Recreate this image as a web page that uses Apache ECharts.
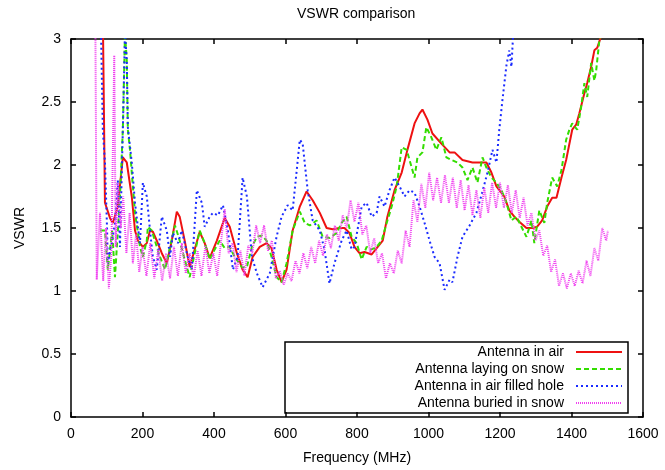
<!DOCTYPE html>
<html>
<head>
<meta charset="utf-8">
<script src="https://cdn.jsdelivr.net/npm/echarts@6/dist/echarts.min.js"></script>
<style>
  html, body { margin: 0; padding: 0; background: #fff; }
  #main { width: 665px; height: 470px; }
</style>
</head>
<body>
<div id="main"></div>
<script>
// [frequency MHz, VSWR]
const airData = [[89,3.2],[95,1.70],[109,1.58],[117,1.54],[131,1.67],[145,2.06],[156,2.02],[170,1.75],[179,1.48],[187,1.40],[201,1.35],[212,1.38],[221,1.48],[229,1.47],[240,1.40],[254,1.30],[268,1.22],[282,1.40],[296,1.63],[304,1.59],[318,1.40],[332,1.19],[346,1.33],[360,1.47],[374,1.38],[388,1.26],[408,1.40],[430,1.58],[444,1.51],[464,1.30],[480,1.17],[494,1.11],[508,1.27],[528,1.35],[547,1.38],[561,1.34],[575,1.17],[589,1.07],[603,1.17],[620,1.48],[640,1.67],[659,1.79],[676,1.72],[696,1.62],[715,1.50],[732,1.49],[751,1.50],[765,1.50],[779,1.46],[793,1.35],[807,1.30],[821,1.31],[841,1.29],[858,1.35],[872,1.40],[885,1.59],[905,1.80],[925,1.94],[941,2.12],[961,2.33],[975,2.41],[983,2.44],[997,2.36],[1011,2.25],[1036,2.17],[1059,2.10],[1073,2.10],[1095,2.04],[1123,2.02],[1162,2.02],[1176,1.94],[1190,1.83],[1212,1.75],[1226,1.64],[1240,1.59],[1254,1.55],[1274,1.50],[1291,1.50],[1304,1.51],[1318,1.56],[1332,1.67],[1346,1.74],[1358,1.74],[1372,1.90],[1385,2.04],[1402,2.28],[1413,2.32],[1422,2.41],[1436,2.57],[1444,2.65],[1455,2.78],[1464,2.91],[1472,2.93],[1486,3.05]];

const snowData = [[81,1.48],[95,1.48],[103,1.17],[115,1.48],[123,1.11],[137,1.75],[145,2.28],[151,3.05],[156,2.83],[159,2.28],[165,2.12],[170,1.94],[179,1.62],[193,1.35],[201,1.27],[212,1.40],[215,1.51],[226,1.48],[240,1.35],[249,1.27],[263,1.17],[277,1.35],[291,1.52],[304,1.40],[318,1.25],[332,1.11],[346,1.30],[360,1.48],[374,1.38],[388,1.25],[402,1.33],[416,1.40],[430,1.34],[444,1.35],[458,1.27],[478,1.19],[492,1.19],[506,1.35],[520,1.43],[534,1.44],[547,1.40],[561,1.27],[575,1.11],[589,1.07],[603,1.22],[620,1.48],[640,1.63],[654,1.54],[668,1.52],[687,1.56],[704,1.43],[723,1.42],[743,1.46],[757,1.54],[771,1.59],[785,1.43],[799,1.38],[813,1.25],[827,1.35],[841,1.33],[855,1.35],[869,1.40],[883,1.54],[897,1.67],[911,1.83],[925,2.14],[939,2.12],[953,1.98],[961,1.90],[969,2.06],[983,2.10],[994,2.30],[1008,2.22],[1022,2.12],[1036,2.22],[1050,2.06],[1064,2.04],[1081,2.02],[1095,1.98],[1109,1.88],[1123,1.98],[1137,1.86],[1151,2.06],[1162,1.98],[1176,1.90],[1190,1.86],[1204,1.80],[1218,1.70],[1232,1.56],[1246,1.59],[1260,1.51],[1274,1.43],[1288,1.56],[1296,1.38],[1310,1.64],[1324,1.54],[1332,1.70],[1346,1.90],[1360,1.83],[1372,1.96],[1385,2.20],[1394,2.28],[1402,2.33],[1416,2.28],[1427,2.46],[1436,2.65],[1444,2.54],[1455,2.81],[1464,2.67],[1469,2.75],[1478,2.99],[1486,3.07]];

const holeData = [[84,3.05],[89,2.28],[95,2.02],[101,1.48],[103,1.22],[115,1.40],[123,1.54],[131,1.88],[137,1.35],[145,2.28],[151,3.05],[156,2.83],[159,2.30],[170,2.02],[179,1.70],[187,1.51],[193,1.38],[201,1.86],[212,1.75],[221,1.48],[229,1.27],[240,1.17],[254,1.59],[268,1.48],[277,1.27],[285,1.46],[299,1.38],[310,1.48],[324,1.30],[338,1.17],[352,1.80],[366,1.70],[374,1.51],[388,1.59],[397,1.62],[411,1.60],[425,1.68],[439,1.48],[453,1.17],[466,1.27],[480,1.90],[492,1.75],[506,1.27],[520,1.14],[536,1.03],[556,1.14],[575,1.43],[589,1.59],[606,1.68],[620,1.64],[640,2.20],[648,2.17],[662,1.80],[676,1.56],[696,1.48],[709,1.33],[723,1.06],[737,1.22],[757,1.40],[771,1.48],[785,1.33],[793,1.35],[813,1.67],[827,1.70],[841,1.59],[855,1.62],[863,1.75],[877,1.67],[891,1.80],[905,1.90],[919,1.83],[933,1.75],[947,1.80],[961,1.78],[975,1.67],[989,1.54],[1003,1.40],[1017,1.27],[1031,1.22],[1045,1.01],[1059,1.09],[1067,1.07],[1081,1.27],[1095,1.43],[1115,1.52],[1134,1.62],[1151,1.79],[1165,1.94],[1179,2.12],[1190,2.02],[1198,2.28],[1207,2.52],[1218,2.79],[1226,2.91],[1232,2.78],[1237,3.05]];

const buriedData = [[68,3.2],[72,1.09],[81,1.62],[90,1.08],[98,1.50],[106,1.02],[113,1.30],[121,2.87],[125,1.35],[131,1.86],[139,1.50],[146,1.75],[155,1.30],[164,1.62],[173,1.22],[182,1.45],[191,1.15],[200,1.35],[211,1.12],[222,1.38],[233,1.10],[244,1.33],[255,1.08],[266,1.30],[277,1.10],[288,1.35],[299,1.12],[310,1.38],[321,1.14],[332,1.30],[343,1.10],[354,1.32],[365,1.12],[376,1.36],[387,1.14],[398,1.30],[409,1.12],[420,1.40],[430,1.65],[441,1.30],[452,1.38],[463,1.15],[474,1.32],[485,1.12],[496,1.36],[507,1.30],[518,1.52],[529,1.38],[540,1.52],[551,1.32],[562,1.40],[573,1.10],[584,1.16],[595,1.05],[606,1.14],[617,1.08],[628,1.24],[639,1.14],[650,1.30],[661,1.18],[672,1.35],[683,1.22],[694,1.40],[705,1.28],[716,1.45],[727,1.34],[738,1.52],[749,1.40],[760,1.60],[771,1.50],[782,1.72],[793,1.55],[804,1.70],[815,1.45],[826,1.52],[837,1.30],[848,1.42],[859,1.22],[870,1.30],[881,1.10],[892,1.22],[903,1.14],[914,1.32],[925,1.22],[936,1.48],[947,1.35],[958,1.72],[969,1.55],[980,1.85],[991,1.66],[1002,1.94],[1013,1.72],[1024,1.90],[1035,1.70],[1046,1.92],[1057,1.70],[1068,1.90],[1079,1.66],[1090,1.88],[1101,1.64],[1112,1.84],[1123,1.60],[1134,1.80],[1145,1.58],[1156,1.82],[1167,1.62],[1178,1.86],[1189,1.66],[1200,1.86],[1211,1.66],[1222,1.84],[1233,1.62],[1244,1.80],[1255,1.58],[1266,1.74],[1277,1.52],[1288,1.62],[1299,1.40],[1310,1.48],[1321,1.28],[1332,1.36],[1343,1.15],[1354,1.25],[1365,1.04],[1376,1.14],[1387,1.02],[1398,1.14],[1409,1.04],[1420,1.16],[1431,1.06],[1442,1.24],[1453,1.12],[1464,1.34],[1475,1.24],[1486,1.50],[1497,1.40],[1502,1.48]];

const seriesNames = ['Antenna in air', 'Antenna laying on snow', 'Antenna in air filled hole', 'Antenna buried in snow'];
const seriesColors = ['#ee1111', '#33dd00', '#1a2bff', '#f040f0'];
const seriesDash = ['solid', [5, 3], [2, 3], [1, 1]];
const seriesData = [airData, snowData, holeData, buriedData];

const font = 'Liberation Sans';
var myChart = echarts.init(document.getElementById('main'));

var axisLine = { show: true, onZero: false, lineStyle: { color: '#000', width: 1.5 } };
var axisTick = { show: true, inside: true, length: 5, lineStyle: { color: '#000', width: 1.5 } };

myChart.setOption({
  animation: false,
  title: {
    text: 'VSWR comparison',
    left: 292, top: 2,
    textStyle: { fontFamily: font, fontSize: 14, fontWeight: 'normal', color: '#000' }
  },
  grid: { left: 71, right: 22, top: 39, bottom: 53 },
  xAxis: [{
    type: 'value', min: 0, max: 1600, interval: 200,
    name: 'Frequency (MHz)', nameLocation: 'middle', nameGap: 34,
    nameTextStyle: { fontFamily: font, fontSize: 14, color: '#000' },
    axisLine: axisLine, axisTick: axisTick,
    axisLabel: { fontFamily: font, fontSize: 14, color: '#000', margin: 10,
      formatter: function (v) { return String(v); } },
    splitLine: { show: false }
  }, {
    type: 'value', position: 'top', min: 0, max: 1600, interval: 200,
    axisLine: axisLine, axisTick: axisTick,
    axisLabel: { show: false }, splitLine: { show: false }
  }],
  yAxis: [{
    type: 'value', min: 0, max: 3, interval: 0.5,
    name: 'VSWR', nameLocation: 'middle', nameGap: 44,
    nameTextStyle: { fontFamily: font, fontSize: 14, color: '#000' },
    axisLine: axisLine, axisTick: axisTick,
    axisLabel: { fontFamily: font, fontSize: 14, color: '#000', margin: 10 },
    splitLine: { show: false }
  }, {
    type: 'value', position: 'right', min: 0, max: 3, interval: 0.5,
    axisLine: axisLine, axisTick: axisTick,
    axisLabel: { show: false }, splitLine: { show: false }
  }],
  legend: {
    orient: 'vertical', align: 'right',
    right: 42, top: 345, padding: 0,
    itemWidth: 46, itemHeight: 14, itemGap: 3,
    itemStyle: { color: 'rgba(0,0,0,0)', borderColor: 'rgba(0,0,0,0)', borderWidth: 0 },
    textStyle: { fontFamily: font, fontSize: 14, color: '#000', padding: [0, 7, 0, 0] },
    data: seriesNames
  },
  graphic: [{
    type: 'rect', shape: { x: 285, y: 342, width: 343, height: 71 },
    style: { fill: 'none', stroke: '#000', lineWidth: 1.5 }, z: 100
  }],
  series: seriesNames.map(function (name, i) {
    return {
      name: name, type: 'line', data: seriesData[i],
      symbol: 'none', clip: true,
      lineStyle: { color: seriesColors[i], width: 2, type: seriesDash[i] },
      itemStyle: { color: seriesColors[i] }
    };
  })
});
</script>
</body>
</html>
